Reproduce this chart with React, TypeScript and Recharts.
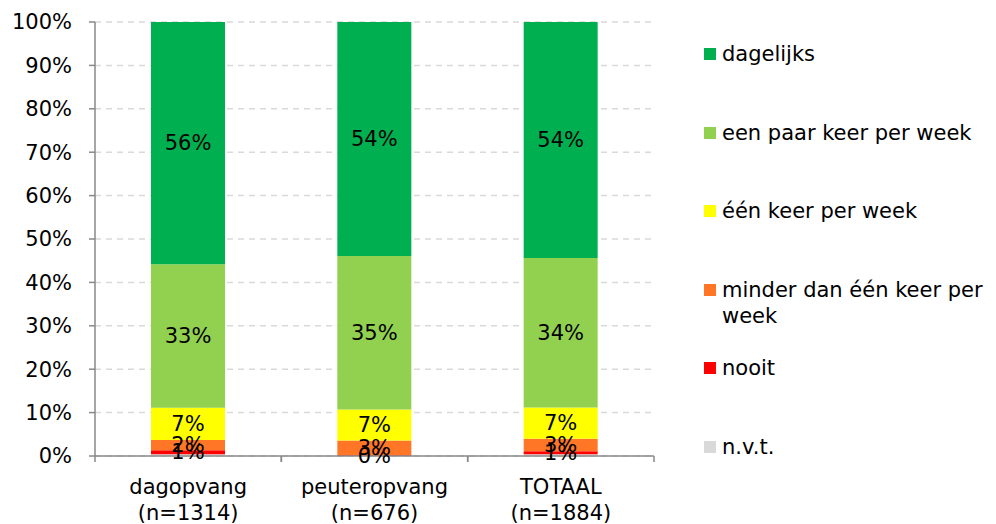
import React from "react";
import {
  Bar,
  BarChart,
  CartesianGrid,
  LabelList,
  XAxis,
  YAxis,
} from "recharts";

const CATEGORIES = ["dagopvang", "peuteropvang", "TOTAAL"];
const COUNTS = ["(n=1314)", "(n=676)", "(n=1884)"];

const NVT = [0.4, 0.0, 0.4];
const NOOIT = [0.9, 0.2, 0.7];
const MINDER = [2.4, 3.4, 2.9];
const EEN_KEER = [7.4, 7.1, 7.2];
const PAAR_KEER = [33.1, 35.4, 34.4];
const DAGELIJKS = [55.8, 53.9, 54.4];

const Y_TICKS = [0, 10, 20, 30, 40, 50, 60, 70, 80, 90, 100];

const SERIES = [
  { key: "nvt", name: "n.v.t.", color: "#D9D9D9", label: false },
  { key: "nooit", name: "nooit", color: "#FF0000", label: true },
  { key: "minder", name: "minder dan één keer per week", color: "#FF7627", label: true },
  { key: "een", name: "één keer per week", color: "#FFFF00", label: true },
  { key: "paar", name: "een paar keer per week", color: "#92D050", label: true },
  { key: "dag", name: "dagelijks", color: "#00B050", label: true },
];

const data = CATEGORIES.map((c, i) => ({
  cat: c,
  n: COUNTS[i],
  nvt: NVT[i],
  nooit: NOOIT[i],
  minder: MINDER[i],
  een: EEN_KEER[i],
  paar: PAAR_KEER[i],
  dag: DAGELIJKS[i],
}));

const FONT = "'DejaVu Sans', Verdana, sans-serif";
const W = 996;
const H = 524;
const M = { top: 22, right: 342, bottom: 0, left: 0 };
const Y_W = 95;
const X_H = 68;
const BAND = (W - M.right - Y_W) / CATEGORIES.length;

const XTick = (props: any) => {
  const { x, y, payload, index } = props;
  return (
    <g>
      <line x1={x - BAND / 2} y1={y - 8} x2={x - BAND / 2} y2={y - 2} stroke="#898989" strokeWidth={1.5} />
      <line x1={x + BAND / 2} y1={y - 8} x2={x + BAND / 2} y2={y - 2} stroke="#898989" strokeWidth={1.5} />
      <text x={x} y={y + 30} textAnchor="middle" fontSize={21} fontFamily={FONT} fill="#000">
        <tspan x={x} dy="0">{payload.value}</tspan>
        <tspan x={x} dy="26">{data[index]?.n}</tspan>
      </text>
    </g>
  );
};

const renderLabel = (props: any) => {
  const { x, y, width, height, value } = props;
  if (value == null) return null;
  return (
    <text
      x={x + width / 2}
      y={y + height / 2}
      textAnchor="middle"
      dominantBaseline="central"
      fontSize={21}
      fontFamily={FONT}
      fill="#000"
    >
      {`${Math.round(value)}%`}
    </text>
  );
};

const LegendBox = () => {
  const items = [...SERIES].reverse();
  return (
    <div style={{ position: "absolute", left: 704, top: 41, fontFamily: FONT, fontSize: 21, color: "#000" }}>
      {items.map((s) => (
        <div key={s.key} style={{ display: "flex", alignItems: "flex-start", height: 78.5 }}>
          <div style={{ width: 12, height: 12, marginTop: 7, marginRight: 6, background: s.color, flex: "none" }} />
          <div style={{ lineHeight: "26px", width: 268, textAlign: "left" }}>{s.name}</div>
        </div>
      ))}
    </div>
  );
};

export default function App() {
  return (
    <div style={{ position: "absolute", left: 0, top: 0, width: W, height: H, background: "#fff" }}>
      <BarChart width={W} height={H} data={data} margin={M} barSize={74}>
        <CartesianGrid vertical={false} stroke="#D9D9D9" strokeDasharray="6 5" strokeWidth={1.5} />
        <XAxis
          dataKey="cat"
          height={X_H}
          tickLine={false}
          axisLine={{ stroke: "#898989", strokeWidth: 1.5 }}
          tick={<XTick />}
          interval={0}
        />
        <YAxis
          width={Y_W}
          domain={[0, 100]}
          ticks={Y_TICKS}
          tickFormatter={(v: number) => `${v}%`}
          tickSize={6}
          tickMargin={17}
          tickLine={{ stroke: "#898989", strokeWidth: 1.5 }}
          axisLine={{ stroke: "#898989", strokeWidth: 1.5 }}
          tick={{ fontSize: 21, fontFamily: FONT, fill: "#000" }}
          interval={0}
        />
        {SERIES.map((s) => (
          <Bar
            key={s.key}
            dataKey={s.key}
            name={s.name}
            stackId="a"
            fill={s.color}
            isAnimationActive={false}
          >
            {s.label && <LabelList dataKey={s.key} content={renderLabel} />}
          </Bar>
        ))}
      </BarChart>
      <LegendBox />
    </div>
  );
}
